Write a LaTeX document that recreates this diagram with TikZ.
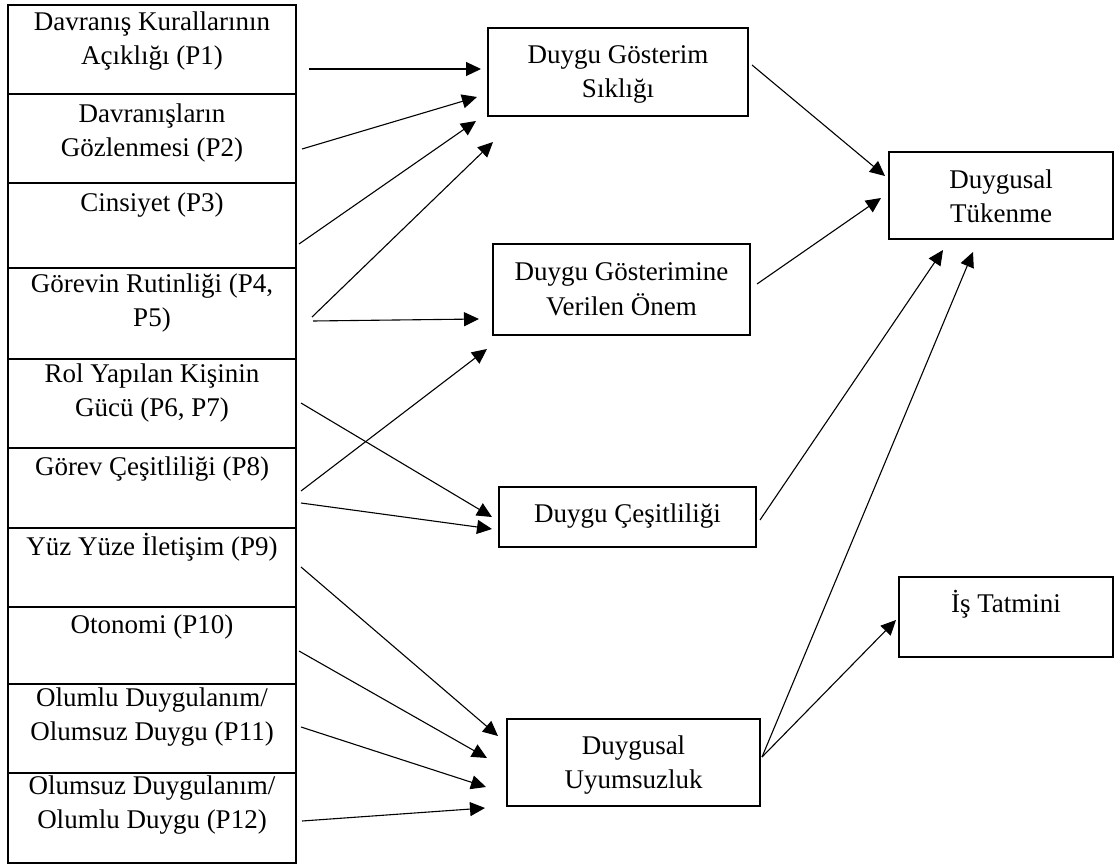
\documentclass[tikz,border=0pt]{standalone}
\usepackage{fontspec}
\setmainfont{Liberation Serif}
\usetikzlibrary{arrows.meta,calc}
\begin{document}
\begin{tikzpicture}[x=1pt,y=-1pt,
  box/.style={draw, line width=2.4pt, inner sep=0pt, outer sep=0pt, anchor=north west},
  lbl/.style={font=\fontsize{27}{34}\selectfont, align=center, inner sep=0pt, anchor=base},
  arr/.style={line width=1.1pt, -{Triangle[length=15pt,width=14pt]}}]
\useasboundingbox (0,0) rectangle (1115,866);

% left column of predictors
\node[box, minimum width=288pt, minimum height=89pt] (p1)  at (8,5)   {};
\node[box, minimum width=288pt, minimum height=89pt] (p2)  at (8,94)  {};
\node[box, minimum width=288pt, minimum height=85pt] (p3)  at (8,183) {};
\node[box, minimum width=288pt, minimum height=91pt] (p4)  at (8,268) {};
\node[box, minimum width=288pt, minimum height=89pt] (p5)  at (8,359) {};
\node[box, minimum width=288pt, minimum height=80pt] (p6)  at (8,448) {};
\node[box, minimum width=288pt, minimum height=79pt] (p7)  at (8,528) {};
\node[box, minimum width=288pt, minimum height=77pt] (p8)  at (8,607) {};
\node[box, minimum width=288pt, minimum height=89pt] (p9)  at (8,684) {};
\node[box, minimum width=288pt, minimum height=90pt] (p10) at (8,773) {};

% the base anchor of a two-line label sits on its second line
\node[lbl] (tp1)  at ($(p1.north)+(0,60)$)  {Davranış Kurallarının\\Açıklığı (P1)};
\node[lbl] (tp2)  at ($(p2.north)+(0,63)$)  {Davranışların\\Gözlenmesi (P2)};
\node[lbl] (tp3)  at ($(p3.north)+(0,29)$)  {Cinsiyet (P3)};
\node[lbl] (tp4)  at ($(p4.north)+(0,58)$)  {Görevin Rutinliği (P4,\\P5)};
\node[lbl] (tp5)  at ($(p5.north)+(0,57)$)  {Rol Yapılan Kişinin\\Gücü (P6, P7)};
\node[lbl] (tp6)  at ($(p6.north)+(0,27)$)  {Görev Çeşitliliği (P8)};
\node[lbl] (tp7)  at ($(p7.north)+(0,27)$)  {Yüz Yüze İletişim (P9)};
\node[lbl] (tp8)  at ($(p8.north)+(0,26)$)  {Otonomi (P10)};
\node[lbl] (tp9)  at ($(p9.north)+(0,56)$)  {Olumlu Duygulanım/\\Olumsuz Duygu (P11)};
\node[lbl] (tp10) at ($(p10.north)+(0,55)$) {Olumsuz Duygulanım/\\Olumlu Duygu (P12)};

% mediators and outcomes
\node[box, minimum width=260pt, minimum height=88pt] (sik) at (488,28)  {};
\node[box, minimum width=257pt, minimum height=91pt] (one) at (493,244) {};
\node[box, minimum width=257pt, minimum height=60pt] (ces) at (499,487) {};
\node[box, minimum width=253pt, minimum height=87pt] (uyu) at (507,719) {};
\node[box, minimum width=224pt, minimum height=87pt] (tuk) at (889,152) {};
\node[box, minimum width=214pt, minimum height=80pt] (tat) at (899,577) {};

\node[lbl] (tsik) at ($(sik.north)+(0,70)$) {Duygu Gösterim\\Sıklığı};
\node[lbl] (tone) at ($(one.north)+(0,71)$) {Duygu Gösterimine\\Verilen Önem};
\node[lbl] (tces) at ($(ces.north)+(0,35)$) {Duygu Çeşitliliği};
\node[lbl] (tuyu) at ($(uyu.north)+(0,69)$) {Duygusal\\Uyumsuzluk};
\node[lbl] (ttuk) at ($(tuk.north)+(0,71)$) {Duygusal\\Tükenme};
\node[lbl] (ttat) at ($(tat.north)+(0,35)$) {İş Tatmini};

% connector end points
\coordinate (a1s)  at (309,69);  \coordinate (a1e)  at (481,69);
\coordinate (a2s)  at (302,149); \coordinate (a2e)  at (477,97);
\coordinate (a3s)  at (299,244); \coordinate (a3e)  at (476,121);
\coordinate (a4s)  at (312,317); \coordinate (a4e)  at (493,142);
\coordinate (a5s)  at (313,321); \coordinate (a5e)  at (479,319);
\coordinate (a6s)  at (301,491); \coordinate (a6e)  at (487,349);
\coordinate (a7s)  at (301,403); \coordinate (a7e)  at (492,517);
\coordinate (a8s)  at (301,503); \coordinate (a8e)  at (492,529);
\coordinate (a9s)  at (301,567); \coordinate (a9e)  at (498,736);
\coordinate (a10s) at (299,651); \coordinate (a10e) at (487,758);
\coordinate (a11s) at (301,727); \coordinate (a11e) at (486,787);
\coordinate (a12s) at (302,821); \coordinate (a12e) at (485,808);
\coordinate (a13s) at (752,65);  \coordinate (a13e) at (885,176);
\coordinate (a14s) at (757,284); \coordinate (a14e) at (881,198);
\coordinate (a15s) at (760,520); \coordinate (a15e) at (943,250);
\coordinate (uyuo) at (762,757);
\coordinate (a16e) at (973,252);
\coordinate (a17e) at (896,620);

\foreach \i in {1,...,15} \draw[arr] (a\i s) -- (a\i e);
\draw[arr] (uyuo) -- (a16e);
\draw[arr] (uyuo) -- (a17e);
\end{tikzpicture}
\end{document}
